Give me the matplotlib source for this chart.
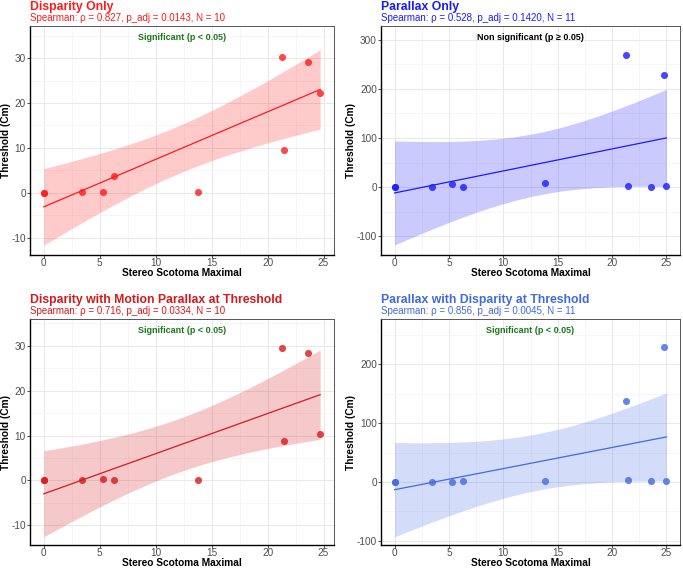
import numpy as np
import matplotlib
matplotlib.use("Agg")
import matplotlib.pyplot as plt
from matplotlib.ticker import MultipleLocator

plt.rcParams['font.family'] = ['Liberation Sans', 'DejaVu Sans']
plt.rcParams['axes.unicode_minus'] = False

# data
x_disp = [0, 0, 3.4, 5.3, 6.3, 13.8, 21.3, 21.5, 23.6, 24.7]
y_disp = [0, 0, 0.2, 0.2, 3.8, 0.1, 30.3, 9.6, 29.1, 22.3]

x_par = [0, 0, 3.4, 5.3, 6.3, 13.8, 21.3, 21.5, 23.6, 24.8, 25.0]
y_par = [1, 1, 0.5, 7, 1, 8, 268, 2, 1, 228, 3]

x_disp_mp = [0, 0, 3.4, 5.3, 6.3, 13.8, 21.3, 21.5, 23.6, 24.7]
y_disp_mp = [0, 0, 0, 0.3, 0, 0, 29.6, 8.8, 28.5, 10.3]

x_par_d = [0, 0, 3.4, 5.3, 6.3, 13.8, 21.3, 21.5, 23.6, 24.8, 25.0]
y_par_d = [0, 0, 0, 0.5, 1, 1, 137, 4, 2, 229, 2]

titles = ["Disparity Only", "Parallax Only",
          "Disparity with Motion Parallax at Threshold",
          "Parallax with Disparity at Threshold"]
subtitles = ["Spearman: \u03c1 = 0.827, p_adj = 0.0143, N = 10",
             "Spearman: \u03c1 = 0.528, p_adj = 0.1420, N = 11",
             "Spearman: \u03c1 = 0.716, p_adj = 0.0334, N = 10",
             "Spearman: \u03c1 = 0.856, p_adj = 0.0045, N = 11"]
sig_labels = ["Significant (p < 0.05)", "Non significant (p \u2265 0.05)",
              "Significant (p < 0.05)", "Significant (p < 0.05)"]
sig_colors = ["#1a7a1a", "black", "#1a7a1a", "#1a7a1a"]
colors = ["#ff1a1a", "#1a1aff", "#d7191c", "#4169e1"]
ylims = [(-13.9, 37.2), (-138, 328), (-14.4, 36.0), (-107, 277)]
ysteps = [10, 100, 10, 100]

# t critical values (95%) for df = 8 and df = 9
tcrit = {8: 2.306, 9: 2.262}

data = [(x_disp, y_disp), (x_par, y_par), (x_disp_mp, y_disp_mp), (x_par_d, y_par_d)]

fig = plt.figure(figsize=(6.83, 5.70), dpi=100)
W, H = 683, 570
boxes = [(30, 26, 334, 255), (381, 26, 680, 255),
         (30, 319, 334, 545), (381, 319, 680, 545)]

for i, (xs, ys) in enumerate(data):
    l, t, r, b = boxes[i]
    ax = fig.add_axes([l / W, 1 - b / H, (r - l) / W, (b - t) / H])
    x = np.array(xs, float)
    y = np.array(ys, float)
    n = len(x)
    slope, icpt = np.polyfit(x, y, 1)
    xx = np.linspace(x.min(), x.max(), 100)
    fit = icpt + slope * xx
    resid = y - (icpt + slope * x)
    s = np.sqrt(np.sum(resid ** 2) / (n - 2))
    sxx = np.sum((x - x.mean()) ** 2)
    se = s * np.sqrt(1 / n + (xx - x.mean()) ** 2 / sxx)
    ci = tcrit[n - 2] * se

    c = colors[i]
    ax.fill_between(xx, fit - ci, fit + ci, color=c, alpha=0.23, lw=0, zorder=2)
    ax.plot(xx, fit, color=c, lw=0.9, zorder=3)
    ax.scatter(x, y, s=26, color=c, alpha=0.8, lw=0, zorder=4)

    xr = x.max() - x.min()
    ax.set_xlim(x.min() - 0.05 * xr, x.max() + 0.05 * xr)
    ax.set_ylim(*ylims[i])
    ax.xaxis.set_major_locator(MultipleLocator(5))
    ax.xaxis.set_minor_locator(MultipleLocator(2.5))
    ax.yaxis.set_major_locator(MultipleLocator(ysteps[i]))
    ax.yaxis.set_minor_locator(MultipleLocator(ysteps[i] / 2))
    ax.grid(which='major', color='#e8e8e8', lw=0.7, zorder=0)
    ax.grid(which='minor', color='#f3f3f3', lw=0.5, zorder=0)
    ax.set_axisbelow(True)
    ax.tick_params(which='major', length=2.2, width=0.6, color='#333333',
                   labelsize=7.2, labelcolor='#4d4d4d', pad=0.8)
    ax.tick_params(axis='x', which='major', pad=0.3)
    ax.tick_params(which='minor', length=0)
    for sp in ['left', 'bottom']:
        ax.spines[sp].set_color('black')
        ax.spines[sp].set_linewidth(1.0)
    for sp in ['top', 'right']:
        ax.spines[sp].set_color('#555555')
        ax.spines[sp].set_linewidth(0.7)

    ax.set_xlabel("Stereo Scotoma Maximal", fontsize=7.3, fontweight='bold', labelpad=0)
    ax.set_ylabel("Threshold (Cm)", fontsize=7.3, fontweight='bold', labelpad=0.5)

    ax.annotate(titles[i], xy=(0, 1), xycoords='axes fraction',
                xytext=(0, 16), textcoords='offset pixels',
                fontsize=8.8, fontweight='bold', color=c, ha='left', va='baseline')
    ax.annotate(subtitles[i], xy=(0, 1), xycoords='axes fraction',
                xytext=(0, 5), textcoords='offset pixels',
                fontsize=7.0, color=c, ha='left', va='baseline')
    ax.text(0.5, 0.97, sig_labels[i], transform=ax.transAxes, ha='center', va='top',
            fontsize=6.5, fontweight='bold', color=sig_colors[i])

fig.savefig("out.png", dpi=100)
